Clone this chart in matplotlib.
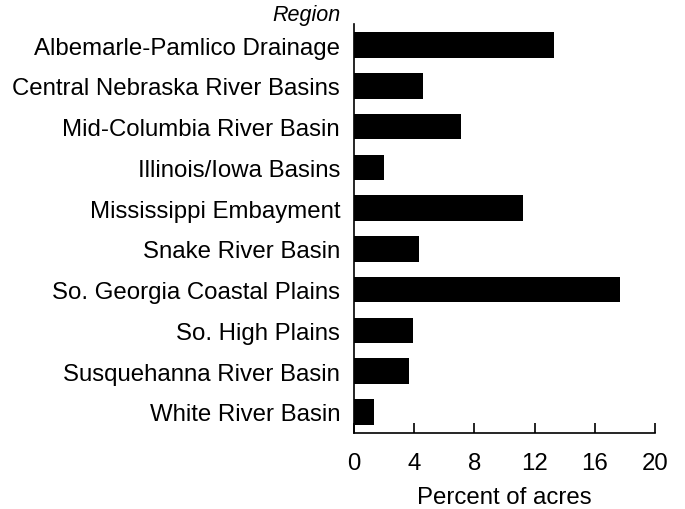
import matplotlib.pyplot as plt

plt.rcParams['font.family'] = ['Liberation Sans', 'DejaVu Sans']

regions = ['Albemarle-Pamlico Drainage', 'Central Nebraska River Basins',
           'Mid-Columbia River Basin', 'Illinois/Iowa Basins',
           'Mississippi Embayment', 'Snake River Basin',
           'So. Georgia Coastal Plains', 'So. High Plains',
           'Susquehanna River Basin', 'White River Basin']
percent = [13.3, 4.6, 7.1, 2.0, 11.2, 4.3, 17.65, 3.9, 3.65, 1.3]
xticks = [0, 4, 8, 12, 16, 20]

fig = plt.figure(figsize=(6.85, 5.10), dpi=100)
ax = fig.add_axes([354 / 685, 1 - 434 / 510, 301 / 685, 409 / 510])

ypos = list(range(len(regions)))
ax.barh(ypos, percent, height=0.63, color='black')
ax.set_ylim(len(regions) - 0.48, -0.52)
ax.set_xlim(0, 20)

ax.set_yticks(ypos)
ax.set_yticklabels(regions, fontsize=17.3)
ax.set_xticks(xticks)
ax.set_xticklabels([str(t) for t in xticks], fontsize=17.3)
ax.tick_params(axis='y', length=0, pad=10)
ax.tick_params(axis='x', direction='in', length=7, width=1.2, pad=14)

for s in ['top', 'right']:
    ax.spines[s].set_visible(False)
for s in ['left', 'bottom']:
    ax.spines[s].set_linewidth(1.2)

ax.set_xlabel('Percent of acres', fontsize=17.3, labelpad=8)
fig.text(341 / 685, 1 - 16 / 510, 'Region', fontsize=15.5, style='italic',
         ha='right', va='center')

fig.savefig('out.png', dpi=100)
